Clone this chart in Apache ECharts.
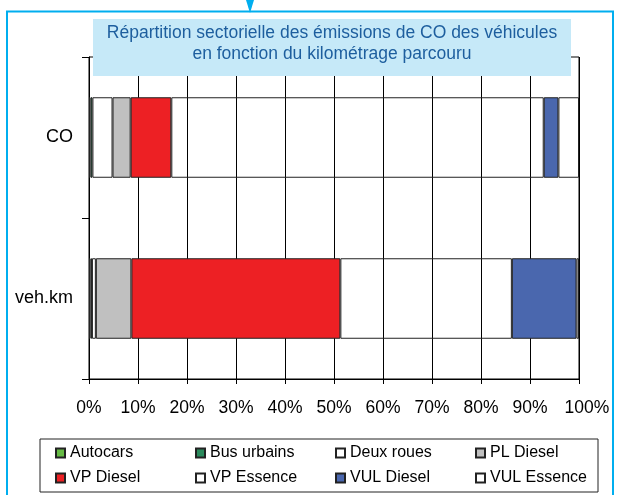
<!DOCTYPE html>
<html>
<head>
<meta charset="utf-8">
<script src="https://cdn.jsdelivr.net/npm/echarts@6/dist/echarts.min.js"></script>
<style>
  html, body { margin: 0; padding: 0; background: #fff; }
  #chart { width: 617px; height: 495px; }
</style>
</head>
<body>
<div id="chart"></div>
<script>
// categories (top to bottom)
const categories = ['CO', 'veh.km'];
const xTicks = [0, 10, 20, 30, 40, 50, 60, 70, 80, 90, 100];

// shares in %, [CO, veh.km]
const autocars   = [0.3, 0.3];
const busUrbains = [0.4, 0.3];
const deuxRoues  = [4.1, 0.8];
const plDiesel   = [3.7, 7.25];
const vpDiesel   = [8.3, 42.65];
const vpEssence  = [76.0, 35.0];
const vulDiesel  = [3.0, 13.2];
const vulEssence = [4.2, 0.5];

const seriesNames = ['Autocars', 'Bus urbains', 'Deux roues', 'PL Diesel',
                     'VP Diesel', 'VP Essence', 'VUL Diesel', 'VUL Essence'];
const seriesData = [autocars, busUrbains, deuxRoues, plDiesel,
                    vpDiesel, vpEssence, vulDiesel, vulEssence];
const colors = ['#66BB44', '#2A8A5C', 'rgba(255,255,255,0)', '#C0C0C0',
                '#ED2024', 'rgba(255,255,255,0)', '#4A67AE', 'rgba(255,255,255,0)'];

const font = 'Liberation Sans, Arial, sans-serif';
const frame = '#00AEEF';

const series = seriesNames.map(function (name, i) {
  return {
    name: name,
    type: 'bar',
    stack: 'total',
    barWidth: '50%',
    data: seriesData[i],
    itemStyle: { color: colors[i], borderColor: '#222', borderWidth: 1 }
  };
});

const legendData = seriesNames.map(function (name, i) {
  // last column narrower so the box ends where the reference does
  return (i % 4 === 3) ? { name: name, textStyle: { width: 100 } } : { name: name };
});

const chart = echarts.init(document.getElementById('chart'), null, { renderer: 'canvas' });
chart.setOption({
  animation: false,
  backgroundColor: '#fff',
  title: {
    text: 'Répartition sectorielle des émissions de CO des véhicules\nen fonction du kilométrage parcouru',
    left: 332,
    textAlign: 'center',
    top: 23,
    padding: 0,
    z: 20,
    textStyle: { fontFamily: font, fontSize: 17.5, fontWeight: 'normal', color: '#1D5E9E', lineHeight: 21 }
  },
  graphic: [
    { type: 'rect', z: 10, shape: { x: 93, y: 19, width: 478, height: 57 }, style: { fill: '#C6E9F8' } },
    { type: 'polyline', z: 10, shape: { points: [[7, 520], [7, 11.5], [613, 11.5], [613, 520]] },
      style: { stroke: frame, lineWidth: 2, fill: null } },
    { type: 'polygon', z: 10, shape: { points: [[246, 0], [254, 0], [250, 13]] }, style: { fill: frame } }
  ],
  legend: {
    data: legendData,
    left: 40,
    top: 439,
    padding: [6, 8, 6, 15],
    borderColor: '#222',
    borderWidth: 1,
    itemWidth: 9,
    itemHeight: 9,
    itemGap: 9,
    icon: 'rect',
    textStyle: { fontFamily: font, fontSize: 16, color: '#000', width: 116, lineHeight: 16 }
  },
  grid: {
    left: 89, top: 57, width: 490, height: 322,
    show: true, borderColor: '#000', borderWidth: 1
  },
  xAxis: {
    type: 'value',
    min: xTicks[0],
    max: xTicks[xTicks.length - 1],
    interval: 10,
    axisLine: { show: true, lineStyle: { color: '#000' } },
    axisTick: { show: true, length: 5, lineStyle: { color: '#000' } },
    splitLine: { show: true, lineStyle: { color: '#000', width: 1 } },
    axisLabel: {
      margin: 20,
      fontFamily: font, fontSize: 17.5, color: '#000',
      formatter: function (v) { return v === 100 ? '{last|100%}' : v + '%'; },
      rich: { last: { padding: [0, 0, 0, 16], fontFamily: font, fontSize: 17.5, color: '#000' } }
    }
  },
  yAxis: {
    type: 'category',
    data: categories,
    inverse: true,
    axisLine: { show: true, lineStyle: { color: '#000' } },
    axisTick: { show: true, length: 7, lineStyle: { color: '#000' } },
    splitLine: { show: false },
    axisLabel: { margin: 16, padding: [7, 0, 0, 0], fontFamily: font, fontSize: 18, color: '#000' }
  },
  series: series
});
</script>
</body>
</html>
